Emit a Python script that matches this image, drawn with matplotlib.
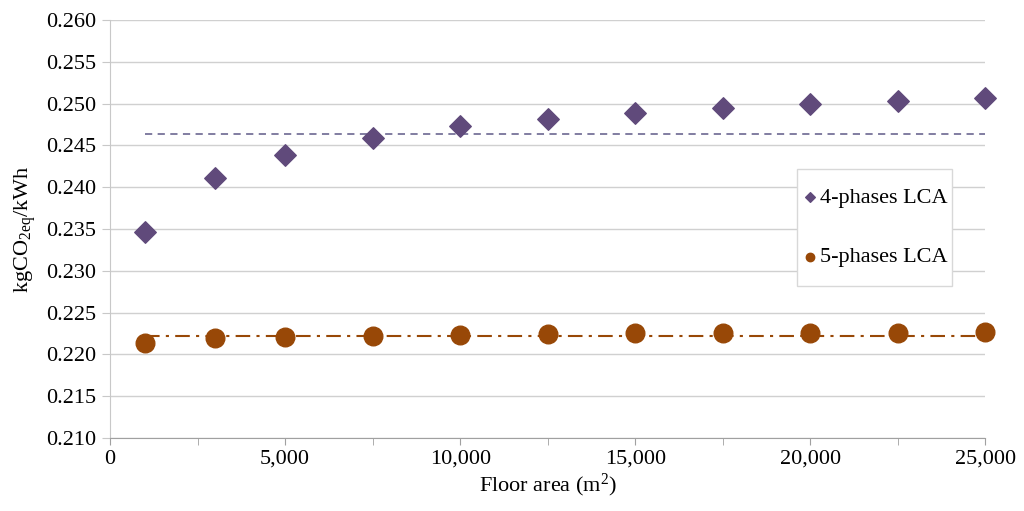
import numpy as np
import matplotlib.pyplot as plt
from matplotlib.patches import Rectangle
from matplotlib.ticker import MultipleLocator, FuncFormatter

plt.rcParams['font.family'] = ['Liberation Serif', 'DejaVu Serif']
plt.rcParams['mathtext.fontset'] = 'custom'
plt.rcParams['mathtext.rm'] = 'Liberation Serif'
plt.rcParams['mathtext.it'] = 'Liberation Serif'

floor_area = [1000, 3000, 5000, 7500, 10000, 12500, 15000, 17500, 20000, 22500, 25000]
lca4 = [0.2346, 0.2411, 0.2439, 0.2459, 0.2473, 0.2481, 0.2489, 0.2495, 0.2500, 0.2503, 0.2507]
lca5 = [0.2213, 0.2219, 0.2221, 0.2222, 0.2223, 0.2224, 0.2225, 0.2225, 0.2226, 0.2226, 0.2227]
mean4 = 0.2464
mean5 = 0.2222

PURPLE = "#604a7b"
BROWN = "#984807"

fig = plt.figure(figsize=(10.24, 5.11), dpi=100)
ax = fig.add_axes([0.1074, 0.143, 0.855, 0.818])

ax.plot([floor_area[0], floor_area[-1]], [mean4, mean4], ls=(0, (4, 3)), color="#77739a", lw=1.3)
ax.plot([floor_area[0], floor_area[-1]], [mean5, mean5], ls=(0, (7, 3, 1.5, 3)), color=BROWN, lw=1.5)

ax.scatter(floor_area, lca4, marker="D", s=120, color=PURPLE, zorder=3, clip_on=False,
           label="4-phases LCA")
ax.scatter(floor_area, lca5, marker="o", s=180, color=BROWN, zorder=3, clip_on=False,
           label="5-phases LCA")

ax.set_xlim(0, 25000)
ax.set_ylim(0.210, 0.260)
ax.xaxis.set_major_locator(MultipleLocator(5000))
ax.xaxis.set_minor_locator(MultipleLocator(2500))
ax.xaxis.set_major_formatter(FuncFormatter(lambda v, p: f"{int(v):,}"))
ax.yaxis.set_major_locator(MultipleLocator(0.005))
ax.yaxis.set_major_formatter(FuncFormatter(lambda v, p: f"{v:.3f}"))

ax.grid(axis="y", color="#d0d0d0", lw=1)
ax.set_axisbelow(True)
for s in ["top", "right"]:
    ax.spines[s].set_visible(False)
ax.spines["left"].set_color("#c8c8c8")
ax.spines["bottom"].set_color("#a0a0a0")
ax.tick_params(axis="y", length=6, color="#c8c8c8", labelsize=16, pad=4)
ax.tick_params(axis="x", which="both", length=5, color="#a0a0a0", labelsize=16, direction="out")

ax.set_xlabel("Floor area (m$^{2}$)", fontsize=16, labelpad=2)
ax.set_ylabel("kgCO$_{2eq}$/kWh", fontsize=16, labelpad=6)

# legend box
x0, x1, y0, y1 = 0.785, 0.962, 0.3636, 0.6435
ax.add_patch(Rectangle((x0, y0), x1 - x0, y1 - y0, transform=ax.transAxes,
                       facecolor="white", edgecolor="#d8d8d8", lw=1, zorder=4))
leg = ax.legend(loc="center", bbox_to_anchor=(x0, y0, x1 - x0, y1 - y0), fontsize=16,
                frameon=False, markerscale=0.45, handletextpad=0.1, labelspacing=1.75,
                borderpad=0.0, handlelength=0.7)
leg.set_zorder(5)

fig.savefig("out.png", dpi=100)
